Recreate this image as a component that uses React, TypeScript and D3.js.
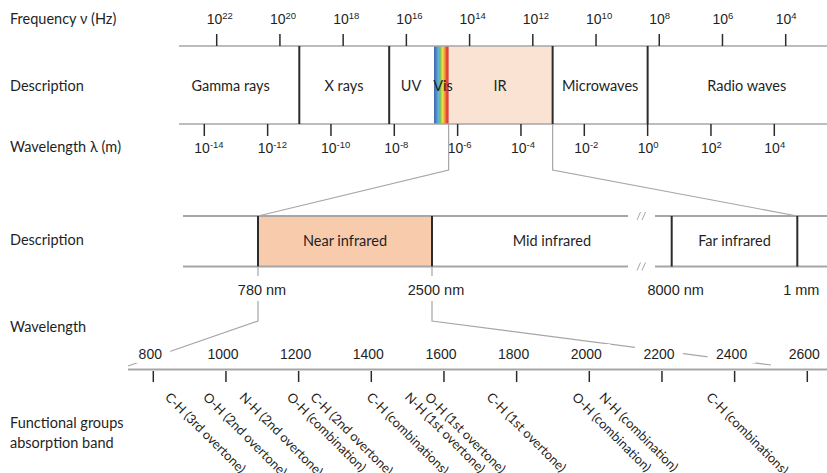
import React from 'react';
import * as d3 from 'd3';

// ---------- data ----------
const freqExponents = [22, 20, 18, 16, 14, 12, 10, 8, 6, 4];
const waveExponents = [-14, -12, -10, -8, -6, -4, -2, 0, 2, 4];
const regionNames = ['Gamma rays', 'X rays', 'UV', 'Vis', 'IR', 'Microwaves', 'Radio waves'];
// boundaries between consecutive regions, wavelength in m
const regionBoundaries = [1e-11, 6.9e-9, 1.8e-7, 5.2e-7, 1e-3, 1];
const regionLabelExp = [-13.17, -9.59, -7.47, -6.46, -4.66, -1.5, 3.13];
const irBandNames = ['Near infrared', 'Mid infrared', 'Far infrared'];
const irEdgesNm = [780, 2500, 8000, 1e6];
const irEdgeLabels = ['780 nm', '2500 nm', '8000 nm', '1 mm'];
const nirTicks = [800, 1000, 1200, 1400, 1600, 1800, 2000, 2200, 2400, 2600];
const bandNames = [
  'C-H (3rd overtone)', 'O-H (2nd overtone)', 'N-H (2nd overtone)', 'O-H (combination)',
  'C-H (2nd overtone)', 'C-H (combinations)', 'N-H (1st overtone)', 'O-H (1st overtone)',
  'C-H (1st overtone)', 'O-H (combination)', 'N-H (combination)', 'C-H (combinations)',
];
const bandNm = [830, 935, 1035, 1165, 1230, 1385, 1490, 1545, 1715, 1950, 2025, 2320];
const visColors = ['#3a62ab', '#4a86c8', '#64b0da', '#79c060', '#e9e04a', '#f3a43c', '#e4473a', '#d93c36'];

// ---------- layout ----------
const W = 827, H = 473;
const SANS = 'Lato, "Noto Sans", sans-serif';
const NUM = '"Liberation Sans", Arial, sans-serif';
const GREY = '#a6a6a6';
const DARK = '#2b2b2b';
const TXT = '#1f1f1f';

const topBand = { x0: 179, x1: W, y0: 46, y1: 124 };
const midBand = { x0: 183, x1: W, y0: 216, y1: 266.5, gapL: 628, gapR: 655 };
const axisY = 369.5;
const axisX0 = 128;

const freqX = d3.scaleLog().domain([1e22, 1e4]).range([216.7, 785.7]);
const waveX = d3.scaleLog().domain([1e-14, 1e4]).range([204.3, 774.3]);
const midX = d3.scaleLinear().domain(irEdgesNm).range([258, 432, 671.7, 797.3]);
const nirX = d3.scaleLinear().domain([800, 2600]).range([153.3, 807.3]);

function Pow({ x, y, base, exp }: { x: number; y: number; base: string; exp: string }) {
  return (
    <text x={x} y={y} fontFamily={NUM} fontSize={14} fill={TXT}>
      {base}
      <tspan dy={-5.5} fontSize={9.5}>{exp}</tspan>
    </text>
  );
}

export default function App() {
  const edges = [topBand.x0, ...regionBoundaries.map((b) => waveX(b)), topBand.x1];
  const darkSeps = [0, 1, 4, 5];
  const irL = waveX(regionBoundaries[3]);
  const irR = waveX(regionBoundaries[4]);
  const visL = waveX(regionBoundaries[2]);

  const midEdgesX = irEdgesNm.map((d) => midX(d));
  const midLabelX = [
    (midEdgesX[0] + midEdgesX[1]) / 2,
    (midEdgesX[1] + midEdgesX[2]) / 2,
    (midEdgesX[2] + midEdgesX[3]) / 2,
  ];

  const slash = (x: number, y: number) => (
    <g stroke={GREY} strokeWidth={1}>
      <line x1={x - 4.5} y1={y + 4} x2={x - 1} y2={y - 4} />
      <line x1={x + 0.5} y1={y + 4} x2={x + 4} y2={y - 4} />
    </g>
  );

  return (
    <svg width={W} height={H} style={{ position: 'absolute', left: 0, top: 0, background: '#fff' }}>
      <defs>
        <linearGradient id="visGrad" x1="0" x2="1" y1="0" y2="0">
          {visColors.map((c, i) => (
            <stop key={i} offset={i / (visColors.length - 1)} stopColor={c} />
          ))}
        </linearGradient>
      </defs>
      <rect width={W} height={H} fill="#fff" />

      {/* left column titles */}
      <g fontFamily={SANS} fontSize={14.5} fill={TXT}>
        <text x={10} y={23.5}>Frequency ν (Hz)</text>
        <text x={10} y={90.5}>Description</text>
        <text x={10} y={151.5}>Wavelength λ (m)</text>
        <text x={10} y={245}>Description</text>
        <text x={10} y={331.5}>Wavelength</text>
        <text x={10} y={428}>Functional groups</text>
        <text x={10} y={447.5}>absorption band</text>
      </g>

      {/* ===== top band ===== */}
      <rect x={irL} y={topBand.y0} width={irR - irL} height={topBand.y1 - topBand.y0} fill="#fbe3d4" />
      <rect x={visL} y={topBand.y0} width={irL - visL} height={topBand.y1 - topBand.y0} fill="url(#visGrad)" />
      <line x1={topBand.x0} x2={topBand.x1} y1={topBand.y0} y2={topBand.y0} stroke={GREY} strokeWidth={1.5} />
      <line x1={topBand.x0} x2={topBand.x1} y1={topBand.y1} y2={topBand.y1} stroke={GREY} strokeWidth={1.5} />
      {darkSeps.map((i) => (
        <line key={i} x1={edges[i + 1]} x2={edges[i + 1]} y1={topBand.y0} y2={topBand.y1} stroke={DARK} strokeWidth={2} />
      ))}
      {regionNames.map((n, i) => (
        <text key={n} x={waveX(Math.pow(10, regionLabelExp[i]))} y={90.5} textAnchor="middle" fontFamily={SANS} fontSize={14.5} fill={TXT}>
          {n}
        </text>
      ))}

      {/* frequency ticks */}
      {freqExponents.map((e) => (
        <g key={'f' + e}>
          <line x1={freqX(Math.pow(10, e))} x2={freqX(Math.pow(10, e))} y1={34} y2={topBand.y0} stroke={DARK} strokeWidth={1.5} />
          <Pow x={freqX(Math.pow(10, e)) - 10} y={24} base="10" exp={String(e)} />
        </g>
      ))}
      {/* wavelength ticks */}
      {waveExponents.map((e) => (
        <g key={'w' + e}>
          <line x1={waveX(Math.pow(10, e))} x2={waveX(Math.pow(10, e))} y1={topBand.y1} y2={136} stroke={DARK} strokeWidth={1.5} />
          <Pow x={waveX(Math.pow(10, e)) - 10} y={153} base="10" exp={String(e)} />
        </g>
      ))}

      {/* connectors top -> middle */}
      <path d={`M${irL},${topBand.y1}V170L${midX(irEdgesNm[0])},${midBand.y0}`} fill="none" stroke={GREY} strokeWidth={1.2} />
      <path d={`M${irR},${topBand.y1}V170L${midX(irEdgesNm[3])},${midBand.y0}`} fill="none" stroke={GREY} strokeWidth={1.2} />

      {/* ===== middle band ===== */}
      <rect x={midEdgesX[0]} y={midBand.y0} width={midEdgesX[1] - midEdgesX[0]} height={midBand.y1 - midBand.y0} fill="#f8cbad" />
      {[midBand.y0, midBand.y1].map((y) => (
        <g key={'mb' + y}>
          <line x1={midBand.x0} x2={midBand.gapL} y1={y} y2={y} stroke={GREY} strokeWidth={2} />
          <line x1={midBand.gapR} x2={midBand.x1} y1={y} y2={y} stroke={GREY} strokeWidth={2} />
          {slash((midBand.gapL + midBand.gapR) / 2, y)}
        </g>
      ))}
      {midEdgesX.map((x, i) => (
        <line key={'me' + i} x1={x} x2={x} y1={midBand.y0} y2={midBand.y1} stroke={DARK} strokeWidth={2} />
      ))}
      {irBandNames.map((n, i) => (
        <text key={n} x={midLabelX[i]} y={246} textAnchor="middle" fontFamily={SANS} fontSize={14.5} fill={TXT}>
          {n}
        </text>
      ))}
      {irEdgesNm.slice(0, 2).map((d) => (
        <line key={'st' + d} x1={midX(d)} x2={midX(d)} y1={midBand.y1} y2={276} stroke={GREY} strokeWidth={1.2} />
      ))}
      {irEdgeLabels.map((l, i) => (
        <text key={l} x={midX(irEdgesNm[i]) + 4} y={295} textAnchor="middle" fontFamily={NUM} fontSize={14.5} fill={TXT}>
          {l}
        </text>
      ))}

      {/* connectors middle -> bottom */}
      <path d={`M${midX(irEdgesNm[0])},301V321L${axisX0},366`} fill="none" stroke={GREY} strokeWidth={1.2} />
      <path d={`M${midX(irEdgesNm[1])},301V321L${nirX(2500)},365`} fill="none" stroke={GREY} strokeWidth={1.2} />

      {/* ===== bottom axis ===== */}
      <line x1={axisX0} x2={W} y1={axisY} y2={axisY} stroke={GREY} strokeWidth={2} />
      {nirTicks.map((t) => {
        const w = String(t).length * 8;
        return (
          <g key={'n' + t}>
            <rect x={nirX(t) - 3 - w / 2 - 8} y={344} width={w + 16} height={19} fill="#fff" />
            <text x={nirX(t) - 3} y={359} textAnchor="middle" fontFamily={NUM} fontSize={14} fill={TXT}>
              {t}
            </text>
            <line x1={nirX(t)} x2={nirX(t)} y1={371} y2={382} stroke={DARK} strokeWidth={1.5} />
          </g>
        );
      })}
      {bandNames.map((n, i) => (
        <text key={i} transform={`translate(${nirX(bandNm[i])},398) rotate(45)`} fontFamily={SANS} fontSize={13} fill={TXT}>
          {n}
        </text>
      ))}
    </svg>
  );
}
